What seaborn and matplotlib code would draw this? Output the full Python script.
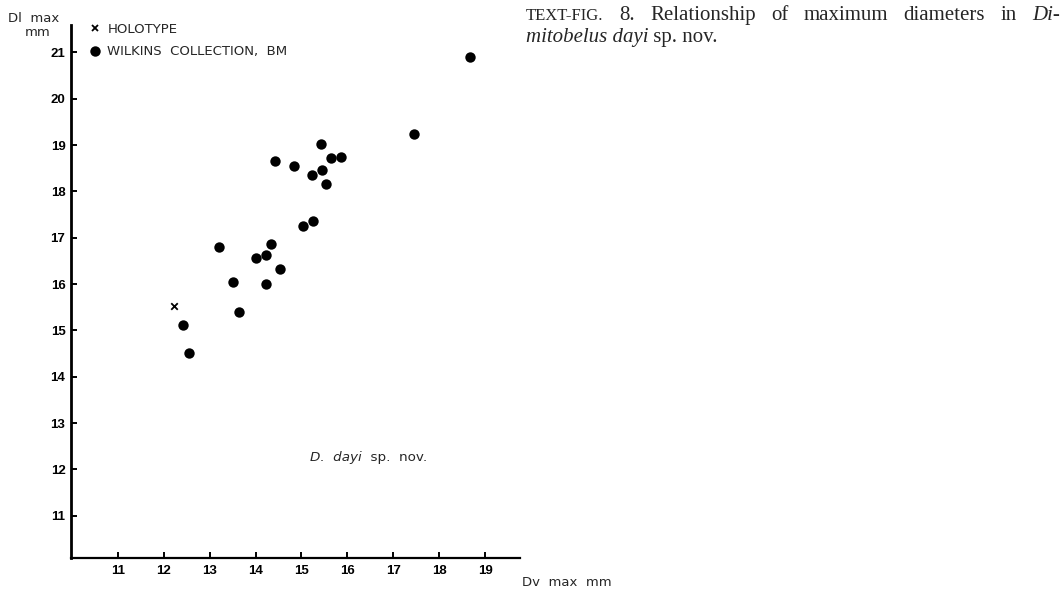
import matplotlib
matplotlib.use("Agg")
import matplotlib.pyplot as plt
import seaborn as sns
import pandas as pd
from matplotlib.lines import Line2D

# ---- data ----
holotype_dv = [12.23]
holotype_dl = [15.52]
wilkins_dv = [18.68, 17.46, 15.42, 15.64, 15.86, 14.42, 14.84, 15.44, 15.24, 15.54, 15.25,
              15.03, 13.20, 14.33, 14.22, 14.02, 14.53, 13.51, 14.22, 12.41, 12.55, 13.64]
wilkins_dl = [20.89, 19.23, 19.02, 18.73, 18.74, 18.65, 18.54, 18.47, 18.35, 18.15, 17.36,
              17.25, 16.80, 16.86, 16.62, 16.56, 16.32, 16.04, 16.01, 15.11, 14.51, 15.39]
x_ticks = [11, 12, 13, 14, 15, 16, 17, 18, 19]
y_ticks = [11, 12, 13, 14, 15, 16, 17, 18, 19, 20, 21]
legend_labels = ["HOLOTYPE", "WILKINS  COLLECTION,  BM"]

sns.set_theme(style="ticks")
plt.rcParams['font.family'] = ['DejaVu Sans']

W, H = 1064, 590
fig = plt.figure(figsize=(W / 100, H / 100), dpi=100)
fig.patch.set_facecolor("white")

def fx(px):
    return px / W

def fy(py):
    return 1 - py / H

ax = fig.add_axes([fx(71), fy(558), fx(520) - fx(71), fy(25) - fy(558)])
ax.set_facecolor("white")

df_w = pd.DataFrame({"Dv": wilkins_dv, "Dl": wilkins_dl})
df_h = pd.DataFrame({"Dv": holotype_dv, "Dl": holotype_dl})

sns.scatterplot(data=df_w, x="Dv", y="Dl", ax=ax, marker="o", s=56, color="black",
                edgecolor="black", linewidth=0, legend=False)
sns.scatterplot(data=df_h, x="Dv", y="Dl", ax=ax, marker="x", s=22, color="black",
                linewidth=1.3, legend=False)

tick_font = dict(family=["Liberation Sans", "DejaVu Sans"], size=9.5, weight="bold")
ax.set_xlim(9.98, 19.76)
ax.set_ylim(10.09, 21.59)
ax.set_xticks(x_ticks)
ax.set_yticks(y_ticks)
ax.set_xticklabels([str(t) for t in x_ticks], fontdict=tick_font)
ax.set_yticklabels([str(t) for t in y_ticks], fontdict=tick_font)
ax.set_xlabel("")
ax.set_ylabel("")
ax.tick_params(axis="x", direction="in", length=4.5, width=1.4, pad=5, colors="black")
ax.tick_params(axis="y", direction="in", length=4.5, width=1.4, pad=4, colors="black")
for s in ["top", "right"]:
    ax.spines[s].set_visible(False)
ax.spines["left"].set_linewidth(2.0)
ax.spines["bottom"].set_linewidth(1.6)
ax.spines["left"].set_color("black")
ax.spines["bottom"].set_color("black")

# axis titles
fig.text(fx(59), fy(19), "Dl  max", ha="right", va="center", fontsize=9.5)
fig.text(fx(50), fy(33), "mm", ha="right", va="center", fontsize=9.5)
fig.text(fx(522), fy(582), "Dv  max  mm", ha="left", va="center", fontsize=9.5)

# legend
handles = [
    Line2D([], [], marker="x", linestyle="none", color="black", markersize=5, markeredgewidth=1.3),
    Line2D([], [], marker="o", linestyle="none", color="black", markersize=7.5, markeredgewidth=0),
]
fig.legend(handles, legend_labels, loc="upper left", bbox_to_anchor=(fx(89), fy(23)),
           frameon=False, fontsize=9.5, handletextpad=0.5, labelspacing=0.7,
           handlelength=0.9, borderpad=0, borderaxespad=0)

renderer = fig.canvas.get_renderer()

def runs(x0, y0, pieces, **kw):
    x = x0
    for txt, props in pieces:
        t = fig.text(fx(x), fy(y0), txt, ha="left", va="baseline", **kw, **props)
        bb = t.get_window_extent(renderer=renderer)
        x += bb.width

def justified(x0, x1, y0, words):
    arts = []
    total = 0
    for txt, props in words:
        t = fig.text(fx(x0), fy(y0), txt, ha="left", va="baseline", **props)
        w = t.get_window_extent(renderer=renderer).width
        arts.append((t, w))
        total += w
    gap = (x1 - x0 - total) / (len(words) - 1)
    x = x0
    for t, w in arts:
        t.set_x(fx(x))
        x += w + gap

# annotation
runs(310, 461, [("D.  dayi", dict(style="italic")), ("  sp.  nov.", {})], fontsize=9.7)

# caption
serif = dict(family=["Liberation Serif", "DejaVu Serif"])
cap = dict(fontsize=15, **serif)
capi = dict(fontsize=15, style="italic", **serif)
justified(526, 1060, 20, [("TEXT-FIG.", dict(fontsize=12, **serif)), ("8.", cap),
                          ("Relationship", cap), ("of", cap), ("maximum", cap),
                          ("diameters", cap), ("in", cap), ("Di-", capi)])
runs(526, 42, [("mitobelus dayi", capi), (" sp. nov.", cap)])

fig.savefig("out.png", dpi=100, facecolor="white")
